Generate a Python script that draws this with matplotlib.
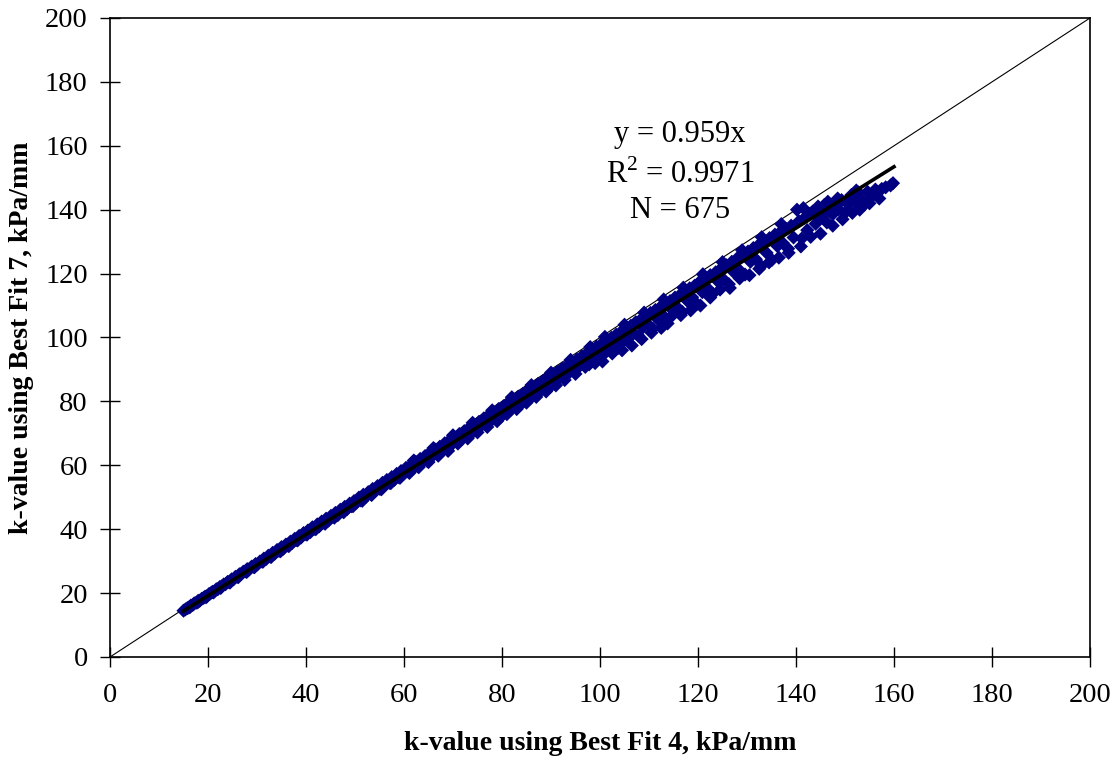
import matplotlib
matplotlib.use("Agg")
import matplotlib.pyplot as plt

plt.rcParams['font.family'] = ['Liberation Serif', 'DejaVu Serif']
plt.rcParams['mathtext.fontset'] = 'custom'
plt.rcParams['mathtext.rm'] = 'Liberation Serif'

pts = [
 (15.0,14.5),(15.4,14.9),(15.8,15.3),(16.1,15.5),(16.5,16.1),(16.9,16.3),(17.2,16.8),(17.6,17.0),(18.0,17.6),(18.3,17.6),
 (18.7,18.2),(19.1,18.5),(19.4,18.9),(19.8,19.0),(20.2,19.7),(20.5,19.9),(20.9,20.4),(21.3,20.5),(21.7,21.2),(22.0,21.2),
 (22.4,21.9),(22.8,22.1),(23.2,22.7),(23.6,22.8),(24.0,23.5),(24.3,23.4),(24.8,24.3),(25.2,24.3),(25.6,25.1),(26.0,25.1),
 (26.4,25.9),(26.8,26.0),(27.2,26.7),(27.6,26.8),(28.0,27.5),(28.4,27.4),(28.9,28.3),(29.3,28.2),(29.7,29.1),(30.1,29.0),
 (30.6,29.9),(31.0,29.9),(31.4,30.8),(31.9,30.7),(32.3,31.7),(32.7,31.4),(33.2,32.6),(33.6,32.3),(34.1,33.5),(34.5,33.2),
 (35.0,34.4),(35.4,33.9),(35.9,35.2),(36.3,34.9),(36.8,36.1),(37.2,35.7),(37.7,37.0),(38.1,36.6),(38.6,37.9),(39.0,37.4),
 (39.5,38.8),(40.0,38.4),
 (40.4,39.6),(40.9,39.1),(41.3,40.6),(41.8,40.1),(42.3,41.5),(42.7,40.9),(43.2,42.4),(43.7,42.0),(44.1,43.3),(44.6,42.7),
 (45.1,44.2),(45.5,43.8),(46.0,45.1),(46.5,44.4),(47.0,46.1),(47.4,45.6),(47.9,47.0),(48.4,46.3),(48.9,48.0),(49.3,47.2),
 (49.8,48.8),(50.3,48.3),(50.8,49.9),(51.2,49.0),(51.7,50.8),(52.2,50.1),(52.7,51.6),(53.2,51.0),(53.6,52.6),(54.1,51.9),
 (54.6,53.5),(55.1,52.6),(55.6,54.5),(56.0,53.7),(56.5,55.4),(57.0,54.5),(57.5,56.3),(58.0,55.4),(58.5,57.3),(59.0,56.2),
 (59.4,58.2),(59.9,57.3),
 (60.4,59.2),(60.9,58.0),(61.4,60.1),(61.9,59.0),(62.4,61.1),(62.8,59.7),(63.3,62.0),(63.8,61.0),(64.3,62.9),(64.8,61.3),
 (65.3,64.0),(65.8,62.9),(66.3,65.0),(66.8,63.4),(67.3,65.8),(67.8,64.6),(68.3,66.9),(68.8,64.9),(69.3,67.8),(69.8,66.6),
 (70.3,68.8),(70.8,67.3),(71.3,69.8),(71.8,68.2),(72.3,70.7),(72.8,69.6),(73.3,71.6),(73.8,70.0),(74.3,72.7),(74.8,71.0),
 (75.3,73.6),(75.8,72.5),(76.3,74.7),(76.8,72.6),(77.3,75.6),(77.8,74.0),(78.3,76.6),(78.8,75.5),(79.3,77.6),(79.8,75.2),
 (80.3,78.5),(80.8,77.5),(81.3,79.6),(81.8,77.4),(82.3,80.5),(82.8,79.3),(83.3,81.5),(83.8,79.0),(84.3,82.4),(84.8,81.3),
 (85.3,83.5),(85.8,81.0),(86.3,84.4),(86.8,82.9),(87.3,85.4),(87.8,83.2),(88.3,86.3),(88.8,84.6),(89.3,87.4),(89.8,84.5),
 (90.3,88.4),(90.8,86.0),(91.3,89.3),(91.8,87.8),(92.3,90.3),(92.8,86.7),(93.3,91.2),(93.8,89.4),(94.3,92.2),(94.8,90.2),
 (95.3,93.1),(95.8,91.0),(96.3,94.1),(96.8,92.5),(97.3,95.1),(97.8,91.6),(98.3,96.0),(98.8,94.2),(99.3,97.1),(99.8,95.5),
 (100.3,98.0),(100.8,94.8),(101.3,99.0),(101.8,96.6),(102.3,99.9),(102.8,97.5),(103.3,100.9),(103.8,96.8),(104.3,101.8),(104.8,98.9),
 (105.3,102.8),(105.8,100.0),(106.3,103.7),(106.8,101.2),(107.3,104.8),(107.8,100.6),(108.3,105.6),(108.8,103.2),(109.3,106.7),(109.8,104.1),
 (110.3,107.7),(110.8,102.8),(111.3,108.6),(111.8,105.7),(112.3,109.5),(112.8,107.0),(113.3,110.5),(113.8,104.4),(114.3,111.4),(114.8,108.6),
 (115.3,112.5),(115.8,109.4),(116.3,113.3),(116.8,108.0),(117.3,114.4),(117.8,111.5),(118.3,115.4),(118.8,112.6),(119.3,116.2),(119.8,110.5),
 (120.3,117.4),(120.9,114.2),(121.4,118.4),(121.9,115.5),(122.5,119.5),(123.0,113.7),(123.6,120.4),(124.1,117.5),(124.7,121.6),(125.2,118.2),
 (125.8,122.6),(126.3,116.7),(126.9,123.7),(127.4,120.3),(128.0,124.8),(128.5,121.0),(129.1,125.8),(129.6,119.7),(130.2,126.9),(130.7,123.7),
 (131.3,128.0),(131.8,124.5),(132.4,129.0),(132.9,122.4),(133.5,130.1),(134.0,126.5),(134.6,131.1),(135.1,124.3),(135.7,132.2),(136.2,128.6),
 (136.8,133.0),(137.3,129.6),(137.9,134.1),(138.4,127.8),(139.0,135.0),(139.5,131.3),(140.2,140.0),(140.6,136.4),(141.2,131.0),(141.8,137.5),
 (142.3,133.6),(142.9,138.8),(143.4,139.4),(144.0,135.6),(144.6,140.6),(145.2,138.0),(145.8,141.5),(146.3,136.0),(146.9,139.5),(147.5,138.6),
 (148.1,142.0),(148.7,140.1),(149.3,143.0),(150.0,139.0),(150.6,141.8),(151.3,144.6),(152.0,142.5),(152.7,145.4),(153.4,143.2),(153.9,141.5),
 (154.6,145.6),(155.3,143.9),(156.2,146.3),(159.3,147.6),(159.8,148.3),
 (16.3,15.6),(17.9,17.1),(19.6,18.7),(21.1,20.2),(22.6,21.6),(24.5,23.3),(26.2,25.0),(27.9,26.6),(29.5,28.1),(31.2,29.8),
 (32.9,31.3),(34.8,33.1),(36.5,34.7),(38.3,36.5),(40.2,38.3),(42.0,40.0),(43.9,41.7),(45.8,43.6),(47.7,45.3),(49.6,47.2),
 (51.5,48.9),(53.4,50.7),(55.4,52.5),(57.3,54.4),(59.2,56.1),
 (61.1,57.6),(63.0,59.4),(65.0,61.0),(67.0,63.0),(69.0,64.5),(71.0,66.8),(73.0,68.4),(75.0,70.3),(77.0,72.0),(79.0,73.8),
 (81.0,76.0),(83.0,77.6),(85.0,79.6),(87.0,81.4),(89.0,83.1),(91.0,85.0),(93.0,87.9),(95.0,88.6),(97.0,90.8),(99.0,92.0),
 (62.0,61.5),(66.0,65.4),(70.0,69.4),(74.0,73.3),(78.0,77.2),(82.0,81.3),(86.0,85.1),(90.0,89.0),(94.0,93.0),(98.0,97.0),
 (100.5,92.5),(102.5,95.0),(104.5,96.0),(106.5,97.5),(108.5,99.5),(110.5,101.5),(112.5,103.0),(114.5,106.5),(116.5,107.0),(118.5,108.5),
 (120.5,110.0),(122.5,112.5),(124.5,115.0),(126.5,115.5),(128.5,118.5),(130.5,119.5),(132.5,121.5),(134.5,123.5),(136.5,125.0),(138.5,126.5),
 (141.0,128.5),(143.0,131.5),(145.0,132.5),(147.5,135.0),(149.5,137.0),(151.5,139.0),(153.0,140.0),(155.0,142.0),(157.0,143.5),
 (101.0,100.2),(105.0,104.0),(109.0,107.8),(113.0,111.9),(117.0,115.6),(121.0,119.8),(125.0,123.6),(129.0,127.3),(133.0,131.4),(137.0,135.5),
 (141.5,140.5),(144.5,141.0),(146.5,142.5),(148.5,143.5),(152.3,146.0),(157.5,146.5),(158.3,147.0),
]
x_vals = [p[0] for p in pts]
y_vals = [p[1] for p in pts]

slope = 0.959
fit_x = [15, 160]
ticks = [0, 20, 40, 60, 80, 100, 120, 140, 160, 180, 200]

fig = plt.figure(figsize=(11.18, 7.65), dpi=100)
ax = fig.add_axes([110/1118, 1-657/765, 980/1118, 639/765])

ax.plot([0, 200], [0, 200], color='black', lw=0.8, zorder=1)
ax.scatter(x_vals, y_vals, marker='D', s=52, color='#000080', edgecolors='none', zorder=2)
ax.plot(fit_x, [slope*v for v in fit_x], color='black', lw=2.6, zorder=3)

ax.set_xlim(0, 200)
ax.set_ylim(0, 200)
ax.set_xticks(ticks)
ax.set_yticks(ticks)
ax.tick_params(direction='inout', length=14, width=1, labelsize=20.5, colors='black')
ax.tick_params(axis='x', pad=12)
ax.tick_params(axis='y', pad=9)
for s in ax.spines.values():
    s.set_linewidth(1.2)

ax.set_xlabel('k-value using Best Fit 4, kPa/mm', fontsize=20, fontweight='bold', labelpad=16)
ax.set_ylabel('k-value using Best Fit 7, kPa/mm', fontsize=20, fontweight='bold', labelpad=8)

ax.text(116.3, 163.4, 'y = 0.959x', fontsize=22, ha='center', va='center')
ax.text(116.3, 151.0, r'R$^{2}$ = 0.9971', fontsize=22, ha='center', va='center')
ax.text(116.3, 139.8, 'N = 675', fontsize=22, ha='center', va='center')

fig.savefig('out.png', dpi=100)
